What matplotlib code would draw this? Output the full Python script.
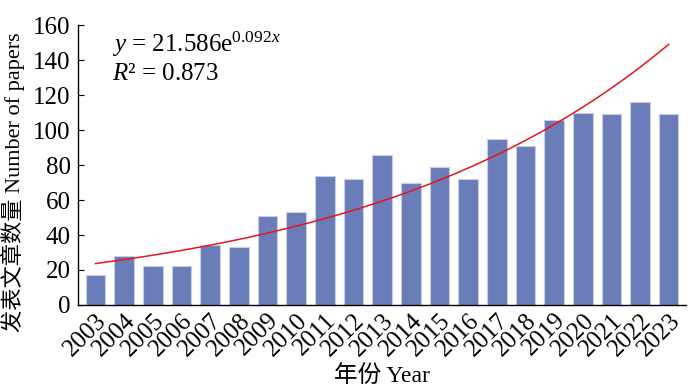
import numpy as np
import matplotlib
matplotlib.use("Agg")
import matplotlib.pyplot as plt

plt.rcParams['font.family'] = ['Liberation Serif', 'Noto Sans CJK SC']
plt.rcParams['mathtext.fontset'] = 'custom'
plt.rcParams['mathtext.rm'] = 'Liberation Serif'
plt.rcParams['mathtext.it'] = 'Liberation Serif:italic'

years = [str(y) for y in range(2003, 2024)]
papers = [17, 28, 22, 22, 34, 33, 51, 53, 74, 72, 86, 70, 79, 72, 95, 91, 106, 110, 109, 116, 109]

# exponential trend line fitted in the original (x = 1..21)
fit_a = 21.586
fit_b = 0.092
r2 = 0.873

fig, ax = plt.subplots(figsize=(6.88, 3.92), dpi=100)
fig.subplots_adjust(left=0.113, right=0.997, top=0.936, bottom=0.222)

x = np.arange(len(years))
ax.bar(x, papers, width=0.68, color='#6a7db8', edgecolor='#c5cde6', linewidth=0.8, zorder=2)

xs = np.linspace(1, len(years), 200)
ax.plot(xs - 1, fit_a * np.exp(fit_b * xs), color='#e8141e', linewidth=1.1, zorder=3)

ax.set_xlim(-0.62, len(years) - 0.4)
ax.set_ylim(0, 160)
ax.set_yticks(range(0, 161, 20))
ax.set_xticks(x)
ax.set_xticklabels(years, rotation=45, ha='right', rotation_mode='anchor')
ax.tick_params(axis='y', direction='in', length=4, labelsize=18, pad=5)
ax.tick_params(axis='x', length=0, labelsize=18, pad=3)
for s in ['top', 'right']:
    ax.spines[s].set_visible(False)
ax.spines['left'].set_linewidth(1.0)
ax.spines['bottom'].set_linewidth(1.0)

ax.set_xlabel('年份 Year', fontsize=17)
ax.set_ylabel('发表文章数量 Number of papers', fontsize=16)
ax.yaxis.set_label_coords(-0.086, 0.44)
ax.xaxis.set_label_coords(0.5, -0.215)

ax.text(0.057, 0.985, r'$y$ = 21.586e$^{0.092x}$', transform=ax.transAxes, fontsize=18, va='top')
ax.text(0.057, 0.865, r'$R$² = %.3f' % r2, transform=ax.transAxes, fontsize=18, va='top')

fig.savefig('out.png', dpi=100)
